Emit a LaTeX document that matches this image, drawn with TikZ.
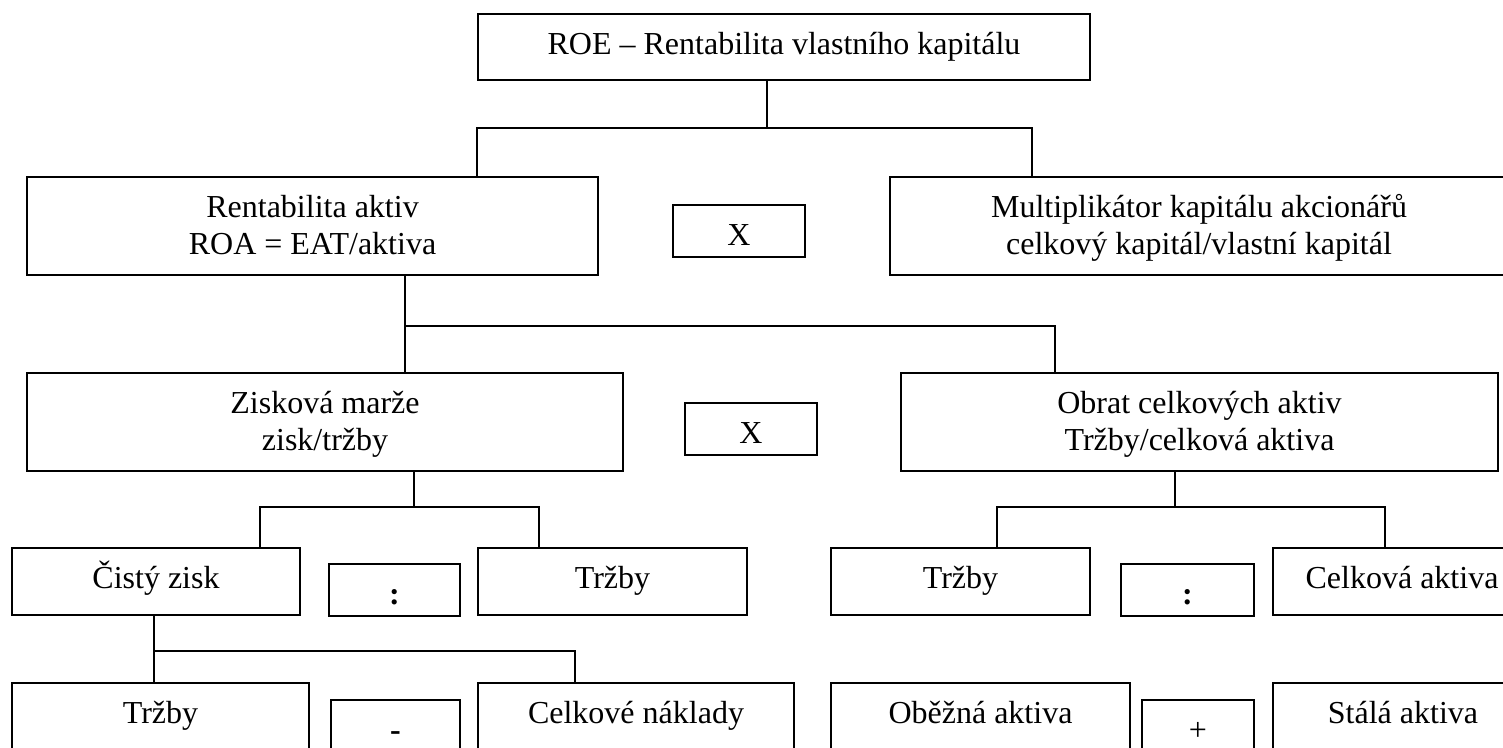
\documentclass[tikz,border=0pt]{standalone}
\usepackage{fontspec}
\setmainfont{Liberation Serif}
\newcommand{\fs}{\fontsize{32pt}{37pt}\selectfont}
\newcommand{\twol}[2]{\begin{tabular}[t]{@{}c@{}}#1\\#2\end{tabular}}
\begin{document}
\begin{tikzpicture}[x=1pt,y=-1pt,
  box/.style={draw, line width=2pt, inner sep=0pt, anchor=north west, text height=40pt, font=\fs},
  conn/.style={line width=1.7pt}]
\useasboundingbox (0,0) rectangle (1503,747);
\clip (0,0) rectangle (1503,747);

% row 1
\node[box, minimum width=612pt, text depth=26pt] (roe) at (477,13) {ROE – Rentabilita vlastního kapitálu};
% row 2
\node[box, minimum width=571pt, text depth=58pt] (ra) at (26,176) {\twol{Rentabilita aktiv}{ROA = EAT/aktiva}};
\node[box, minimum width=132pt, text depth=12pt] (x1) at (672,204) {X};
\node[box, minimum width=618pt, text depth=58pt] (mk) at (889,176) {\twol{Multiplikátor kapitálu akcionářů}{celkový kapitál/vlastní kapitál}};
% row 3
\node[box, minimum width=596pt, text depth=58pt] (zm) at (26,372) {\twol{Zisková marže}{zisk/tržby}};
\node[box, minimum width=132pt, text depth=12pt] (x2) at (684,402) {X};
\node[box, minimum width=597pt, text depth=58pt] (ob) at (900,372) {\twol{Obrat celkových aktiv}{Tržby/celková aktiva}};
% row 4
\node[box, minimum width=288pt, text depth=27pt] (cz) at (11,547) {Čistý zisk};
\node[box, minimum width=131pt, text depth=12pt] (d1) at (328,563) {\textbf{:}};
\node[box, minimum width=269pt, text depth=27pt] (tr1) at (477,547) {Tržby};
\node[box, minimum width=259pt, text depth=27pt] (tr2) at (830,547) {Tržby};
\node[box, minimum width=133pt, text depth=12pt] (d2) at (1120,563) {\textbf{:}};
\node[box, minimum width=258pt, text depth=27pt] (ca) at (1272,547) {Celková aktiva};
% row 5
\node[box, minimum width=297pt, text depth=27pt] (tr3) at (11,682) {Tržby};
\node[box, minimum width=129pt, text depth=12pt] (mi) at (330,699) {\textbf{-}};
\node[box, minimum width=316pt, text depth=27pt] (cn) at (477,682) {Celkové náklady};
\node[box, minimum width=299pt, text depth=27pt] (oa) at (830,682) {Oběžná aktiva};
\node[box, minimum width=112pt, text depth=12pt] (pl) at (1141,699) {+};
\node[box, minimum width=260pt, text depth=27pt] (sa) at (1272,682) {Stálá aktiva};

% connectors
\coordinate (a) at (767,128); \coordinate (al) at (477,128); \coordinate (ar) at (1032,128);
\draw[conn] (roe.south -| a) -- (a);
\draw[conn] (al |- ra.north) -- (al) -- (ar) -- (ar |- mk.north);

\coordinate (b) at (405,326); \coordinate (br) at (1055,326);
\draw[conn] (ra.south -| b) -- (b |- zm.north);
\draw[conn] (b) -- (br) -- (br |- ob.north);

\coordinate (c) at (414,507); \coordinate (cl) at (260,507); \coordinate (cr) at (539,507);
\draw[conn] (zm.south -| c) -- (c);
\draw[conn] (cl |- cz.north) -- (cl) -- (cr) -- (cr |- tr1.north);

\coordinate (d) at (1175,507); \coordinate (dl) at (997,507); \coordinate (dr) at (1385,507);
\draw[conn] (ob.south -| d) -- (d);
\draw[conn] (dl |- tr2.north) -- (dl) -- (dr) -- (dr |- ca.north);

\coordinate (e) at (154,651); \coordinate (er) at (575,651);
\draw[conn] (cz.south -| e) -- (e |- tr3.north);
\draw[conn] (e) -- (er) -- (er |- cn.north);
\end{tikzpicture}
\end{document}
